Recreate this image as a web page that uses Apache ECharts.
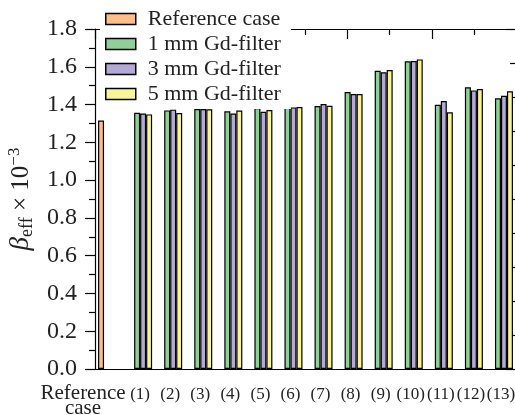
<!DOCTYPE html>
<html>
<head>
<meta charset="utf-8">
<script src="https://cdn.jsdelivr.net/npm/echarts@6/dist/echarts.min.js"></script>
<style>
html, body { margin: 0; padding: 0; background: #fff; }
#chart { width: 515px; height: 415px; }
</style>
</head>
<body>
<div id="chart"></div>
<script>
var categories = ['Reference case', '(1)', '(2)', '(3)', '(4)', '(5)', '(6)', '(7)', '(8)', '(9)', '(10)', '(11)', '(12)', '(13)'];
var seriesNames = ['Reference case', '1 mm Gd-filter', '3 mm Gd-filter', '5 mm Gd-filter'];
var refCase = [1.315, null, null, null, null, null, null, null, null, null, null, null, null, null];
var gd1mm = [null, 1.357, 1.369, 1.376, 1.364, 1.382, 1.387, 1.392, 1.466, 1.579, 1.629, 1.399, 1.491, 1.433];
var gd3mm = [null, 1.353, 1.373, 1.376, 1.353, 1.362, 1.385, 1.403, 1.456, 1.571, 1.630, 1.419, 1.475, 1.447];
var gd5mm = [null, 1.348, 1.355, 1.375, 1.368, 1.371, 1.387, 1.394, 1.456, 1.583, 1.639, 1.359, 1.482, 1.470];

var colors = ['#fdbf88', '#8fcf98', '#b4a8d4', '#f8f49a'];
var font = 'Liberation Serif';

var chart = echarts.init(document.getElementById('chart'));

function barSeries(i, data) {
	return {
		name: seriesNames[i],
		type: 'bar',
		xAxisIndex: 0,
		yAxisIndex: 0,
		data: data,
		barWidth: 6,
		barGap: '0%',
		itemStyle: {
			color: colors[i],
			borderColor: '#000',
			borderWidth: 1.2
		}
	};
}

var option = {
	animation: false,
	textStyle: { fontFamily: font },
	grid: { left: 95, right: -1, top: 29, bottom: 46, containLabel: false, outerBoundsMode: 'none' },
	legend: {
		orient: 'vertical',
		left: 100,
		top: 3,
		padding: [5, 10, 4, 5],
		backgroundColor: '#fff',
		itemWidth: 30,
		itemHeight: 11,
		itemGap: 3,
		icon: 'rect',
		itemStyle: { borderColor: '#000', borderWidth: 1.5 },
		textStyle: { fontFamily: font, fontSize: 22, lineHeight: 22, color: '#222', padding: [0, 0, 0, 7] },
		data: seriesNames
	},
	xAxis: [
		{
			// labels + minor ticks between groups
			type: 'category',
			data: categories,
			position: 'bottom',
			axisLine: { lineStyle: { color: '#000', width: 1.2 } },
			axisTick: { alignWithLabel: false, length: 6, lineStyle: { color: '#000', width: 1.2 } },
			axisLabel: {
				interval: 0,
				margin: 17,
				color: '#222',
				formatter: function(v, i) {
					if (i === 0) {
						return '{ref|Reference}\n{ref|case}';
					}
					return '{num|' + v + '}';
				},
				rich: {
					ref: { fontFamily: font, fontSize: 21, lineHeight: 15, padding: [0, 54, 0, 0], color: '#222' },
					num: { fontFamily: font, fontSize: 17, lineHeight: 17, color: '#222' }
				}
			},
			splitLine: { show: false }
		},
		{
			// major ticks at group centres
			type: 'category',
			data: categories,
			position: 'bottom',
			axisLine: { show: false },
			axisTick: { alignWithLabel: true, length: 10, lineStyle: { color: '#000', width: 1.2 } },
			axisLabel: { show: false },
			splitLine: { show: false }
		},
		{
			// top spine
			type: 'value',
			position: 'top',
			min: 0,
			max: 5,
			interval: 1,
			axisLine: { show: true, lineStyle: { color: '#000', width: 1.2 } },
			axisTick: { show: true, inside: true, length: 10, lineStyle: { color: '#000', width: 1.2 } },
			minorTick: { show: true, splitNumber: 2, length: 6, lineStyle: { color: '#000', width: 1.2 } },
			axisLabel: { show: false },
			splitLine: { show: false }
		}
	],
	yAxis: [
		{
			type: 'value',
			min: 0,
			max: 1.8,
			interval: 0.2,
			name: '{b|β}{s|eff}{t| × 10}{p|−3}',
			nameLocation: 'middle',
			nameRotate: 90,
			nameGap: 52,
			nameTextStyle: {
				rich: {
					b: { fontFamily: font, fontSize: 27, fontStyle: 'italic', lineHeight: 30, color: '#222' },
					s: { fontFamily: font, fontSize: 18, lineHeight: 17, verticalAlign: 'bottom', color: '#222' },
					t: { fontFamily: font, fontSize: 25, lineHeight: 30, color: '#222' },
					p: { fontFamily: font, fontSize: 17, lineHeight: 16, verticalAlign: 'top', color: '#222' }
				}
			},
			axisLine: { show: true, lineStyle: { color: '#000', width: 1.2 } },
			axisTick: { show: true, length: 10, lineStyle: { color: '#000', width: 1.2 } },
			minorTick: { show: true, splitNumber: 2, length: 6, lineStyle: { color: '#000', width: 1.2 } },
			axisLabel: {
				margin: 18,
				fontFamily: font,
				fontSize: 24,
				color: '#222',
				formatter: function(v) { return v.toFixed(1); }
			},
			splitLine: { show: false }
		},
		{
			// right spine
			type: 'value',
			position: 'right',
			min: 0,
			max: 5,
			interval: 1,
			axisLine: { show: true, lineStyle: { color: '#000', width: 1.2 } },
			axisTick: { show: true, inside: true, length: 10, lineStyle: { color: '#000', width: 1.2 } },
			minorTick: { show: true, splitNumber: 2, length: 6, lineStyle: { color: '#000', width: 1.2 } },
			axisLabel: { show: false },
			splitLine: { show: false }
		}
	],
	series: [
		barSeries(0, refCase),
		barSeries(1, gd1mm),
		barSeries(2, gd3mm),
		barSeries(3, gd5mm)
	]
};

chart.setOption(option);
</script>
</body>
</html>
